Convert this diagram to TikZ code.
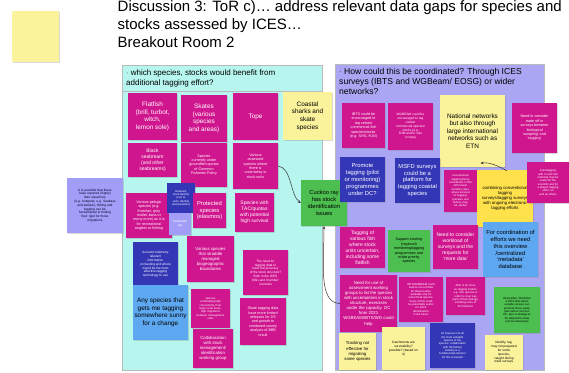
\documentclass[tikz,border=0pt]{standalone}
\usepackage{fontspec}
\setmainfont{Liberation Sans}
\usetikzlibrary{shadows,arrows.meta,calc}
\definecolor{mag}{HTML}{D0168E}
\definecolor{cyanp}{HTML}{B6F6EE}
\definecolor{lavp}{HTML}{AAA6F3}
\definecolor{dblue}{HTML}{3337B6}
\definecolor{lblue}{HTML}{5EA8F2}
\definecolor{gnote}{HTML}{4DBF50}
\definecolor{ylight}{HTML}{FBF29C}
\definecolor{ystrong}{HTML}{FFE14C}
\definecolor{lavnote}{HTML}{A29DF6}
\tikzset{
  sticky/.style={draw=none, align=center, inner sep=1pt,
    drop shadow={shadow xshift=0.5pt, shadow yshift=-0.7pt, opacity=0.3}},
  magnote/.style={sticky, fill=mag, text=white},
  bluenote/.style={sticky, fill=dblue, text=white},
  lbnote/.style={sticky, fill=lblue, text=black},
  grnote/.style={sticky, fill=gnote, text=black},
  ylnote/.style={sticky, fill=ylight, text=black},
  ysnote/.style={sticky, fill=ystrong, text=black},
  lvnote/.style={sticky, fill=lavnote, text=black!85!blue},
  panel/.style={draw=gray!55, line width=0.4pt},
  arr/.style={-{Stealth[length=3pt,width=2.6pt]}, draw=black!80, line width=0.5pt},
  fa/.style={font=\fontsize{2.8}{3.35}\selectfont},
  fb/.style={font=\fontsize{3.2}{3.8}\selectfont},
  fc/.style={font=\fontsize{3.7}{4.4}\selectfont},
  fd/.style={font=\fontsize{4.3}{5.1}\selectfont},
  fe/.style={font=\fontsize{5}{6}\selectfont},
  ff/.style={font=\fontsize{5.8}{6.9}\selectfont},
  fg/.style={font=\fontsize{6.4}{7.6}\selectfont},
  ttl/.style={anchor=base west, inner sep=0pt, font=\fontsize{15}{18}\selectfont},
}
\begin{document}
\begin{tikzpicture}[x=1pt,y=-1pt]
\useasboundingbox[fill=white] (0,0) rectangle (569,372);

% top-left sticky
\node[ylnote, minimum width=47pt, minimum height=51pt] (ylead) at (35.5,36.5) {};

% title
\node[ttl] (t1) at (117.5,11.6) {Discussion 3: ToR c)\dots\ address relevant data gaps for species and};
\node[ttl] (t2) at (117.5,29.2) {stocks assessed by ICES\dots};
\node[ttl] (t3) at (117.5,47) {Breakout Room 2};

% panels
\node[panel, fill=cyanp, minimum width=200pt, minimum height=305pt, inner sep=0pt] (lp) at (222,217.5) {};
\node[panel, fill=cyanp, minimum width=200pt, minimum height=26pt, inner sep=0pt, anchor=north west] (lph) at (122,65) {};
\node[anchor=north west, inner sep=0pt, align=left, font=\fontsize{8}{9.4}\selectfont] (lpt) at (126,70) {$\cdot$ which species, stocks would benefit from\\additional tagging effort?};

\node[panel, fill=lavp, minimum width=209pt, minimum height=306pt, inner sep=0pt] (rp) at (439.5,217) {};
\node[anchor=north west, inner sep=0pt, align=left, font=\fontsize{8.6}{9.6}\selectfont] (rpt) at (339,68.5) {$\cdot$ How could this be coordinated? Through ICES\\surveys (IBTS and WGBeam/ EOSG) or wider\\networks?};

% outside left lavender note
\node[lvnote, fb, minimum width=56pt, minimum height=55pt, text width=53pt] (lv1) at (95,205.5) {It is possible that these\\have reported (highly)\\than elsewhere\\(e.g. hotspots, e.g. Seabass\\and pollack), fishing and\\tagging can be\\fundamental to finding\\their rigid for those\\migrations};

% left panel notes
\node[magnote, fg, minimum width=49pt, minimum height=47pt] (n1) at (152.5,116.5) {Flatfish\\(brill, turbot,\\witch,\\lemon sole)};
\node[magnote, fg, minimum width=46pt, minimum height=47pt] (n2) at (204,118.5) {Skates\\(various\\species\\and areas)};
\node[magnote, fg, minimum width=45pt, minimum height=47pt] (n3) at (255.5,116.5) {Tope};
\node[ylnote, fg, minimum width=49pt, minimum height=48pt] (n4) at (307.5,116) {Coastal\\sharks and\\skate\\species};
\node[magnote, fe, minimum width=49pt, minimum height=34pt] (n5) at (152.5,160) {Black\\seabream\\(and other\\seabreams)};
\node[magnote, fc, minimum width=46pt, minimum height=44pt] (n6) at (204,165) {Species\\currently under\\groundfish quotas\\of Common\\Fisheries Policy};
\node[magnote, fc, minimum width=45pt, minimum height=46pt] (n7) at (255.5,166) {Various\\assessed\\species where\\there is\\uncertainty in\\stock units};
\node[magnote, fc, minimum width=46pt, minimum height=45pt] (n8) at (149,215.5) {Various pelagic\\species (e.g.\\thresher, grey\\mullet, bass or\\many more) as it is\\for recreational\\anglers or fishing};
\node[bluenote, fa, minimum width=28pt, minimum height=30pt] (n9) at (181,198) {Relevant\\stock identity\\prior to\\units, identity\\and parasites)};
\node[lvnote, fb, minimum width=22pt, minimum height=22pt, text=white] (n10) at (180,224) {Seabream\\ray};
\node[magnote, ff, minimum width=33pt, minimum height=35pt] (n11) at (209.5,210.5) {Protected\\species\\(elasmos)};
\node[magnote, fe, minimum width=39pt, minimum height=39pt] (n12) at (254.5,212.5) {Species with\\TAC/quotas\\with potential\\high survival};
\node[bluenote, fb, minimum width=45pt, minimum height=45pt] (n13) at (155.5,264.5) {Acoustic telemetry\\relevant\\information\\on feeding and where\\would be the most\\effective tagging\\technology to use};
\node[magnote, fd, minimum width=47pt, minimum height=46pt] (n14) at (210.5,259) {Various species\\that straddle\\managed\\biogeographic\\boundaries};
\node[magnote, fb, minimum width=45pt, minimum height=45pt] (n15) at (265.5,272.5) {The need for\\tagging data to\\have the accuracy\\of the stock structure?\\Both in the ICES\\WGs and `member'\\countries};
\node[lbnote, fg, minimum width=55pt, minimum height=55pt] (n16) at (160.5,312.5) {Any species that\\gets me tagging\\somewhere sunny\\for a change};
\node[magnote, fa, minimum width=39pt, minimum height=39pt] (n17) at (210.5,308.5) {Species\\undertaking high\\connectivity, from\\large scale areas,\\high migrations\\between management\\units};
\node[magnote, fc, minimum width=46pt, minimum height=47pt] (n18) at (263,321.5) {Skate tagging data\\have more limited\\releases for 2/3\\and growth to\\combined survey\\analysis of BBB\\result};
\node[magnote, fd, minimum width=40pt, minimum height=39pt] (n19) at (213,348.5) {Collaboration\\with stock\\management/\\identification\\working group};

% cuckoo ray
\node[grnote, ff, minimum width=46pt, minimum height=46pt] (cuck) at (324,203) {Cuckoo ray\\has stock\\identification\\issues};

% right panel notes
\node[magnote, fc, minimum width=43pt, minimum height=45pt] (r1) at (363.5,125.5) {IBTS could be\\encouraged to\\tag certain\\commercial fish\\species/stocks\\(e.g. SHG, RJN)};
\node[magnote, fb, minimum width=45pt, minimum height=47pt] (r2) at (410.5,126.5) {WGBEAM could be\\encouraged to tag\\certain\\commercial species/\\stocks (e.g.\\RJM and/or sole\\or tope)};
\node[ylnote, fg, minimum width=65pt, minimum height=72pt] (nat) at (472.5,131) {National networks\\but also through\\large international\\networks such as\\ETN};
\node[magnote, fc, minimum width=45pt, minimum height=50pt] (r4) at (534.5,128) {Need to consider\\trade off in\\surveys between\\`biological\\sampling' and\\`tagging'};
\node[bluenote, ff, minimum width=45pt, minimum height=45pt] (r5) at (362.5,179.5) {Promote\\tagging (pilot\\or monitoring)\\programmes\\under DC?};
\node[bluenote, ff, minimum width=45pt, minimum height=45pt] (r6) at (417.5,180.5) {MSFD surveys\\could be a\\platform for\\tagging coastal\\species};
\node[magnote, fa, minimum width=33pt, minimum height=42pt] (r7) at (460.5,191) {Conventional\\tagging (being\\considered, in fish\\with lowest\\mortality rates,\\where survival\\of `tagging'\\pressure and\\fishery, may\\be useful)};
\node[ysnote, fd, minimum width=56pt, minimum height=57pt] (comb) at (505,198.5) {combining conventional\\tagging\\surveys/tagging surveys\\with ongoing electronic\\tagging efforts};
\node[magnote, fa, minimum width=42pt, minimum height=41pt] (r9) at (548,182.5) {Fyke/tagging\\with `no-kill' fish\\methods may be\\useful for the\\scientific and for\\a deeper tagging\\effort, as\\well as others};
\node[magnote, fe, minimum width=45pt, minimum height=41pt] (r10) at (362.5,247.5) {Tagging of\\various fish\\where stock\\units uncertain,\\including some\\flatfish};
\node[grnote, fc, minimum width=42pt, minimum height=42pt] (r11) at (409,251) {Support existing\\(regional)\\monitoring/tagging\\programmes and\\make priority\\species};
\node[magnote, fe, minimum width=45pt, minimum height=44pt] (r12) at (455.5,247) {Need to consider\\workload of\\surveys and the\\requests for\\`more data'};
\node[lbnote, ff, minimum width=55pt, minimum height=55pt] (r13) at (510.5,249.5) {For coordination of\\efforts we need\\this overview\\/centralized\\`metadata'\\database};
\node[magnote, fd, minimum width=57pt, minimum height=57pt] (r14) at (368.5,303.5) {Need for use of\\assessment working\\groups to list the species\\with uncertainties in stock\\structure, exercises\\under the capacity. DC\\from 2021\\WGBEAM/IBTS/WG could\\help};
\node[magnote, fa, minimum width=44pt, minimum height=45pt] (r15) at (421,299.5) {IBTS/WGBEAM could\\lead to a lot of data\\for these bodies\\available only for\\some focal species.\\Some of this could\\be potentially useful\\for stock\\identification\\in the future};
\node[magnote, fa, minimum width=39pt, minimum height=38pt] (r16) at (465.5,296) {Able to do more\\on tagging studies\\e.g. rare species in\\order to cover key\\parts of their biology,\\including sizes of\\the fisheries};
\node[grnote, fa, minimum width=46pt, minimum height=46pt] (r17) at (517,310) {Remember: Would be\\a ICES WG where\\outside surveys can\\promote those easily\\plan with a common\\DC, plan a strategy to\\be adopted for data\\(can be data base)};
\node[ylnote, fd, minimum width=37pt, minimum height=37pt] (r18) at (357.5,351.5) {Tracking not\\effective for\\migrating\\some species};
\node[ylnote, fb, minimum width=43pt, minimum height=43pt] (r19) at (403.5,348.5) {Catchments are\\survivability?\\possible? (based on\\it)};
\node[bluenote, fa, minimum width=45pt, minimum height=45pt] (r20) at (452.5,345.5) {As however not all\\the most valuable\\species or the\\species: collaboration\\with the fishing\\industry is a\\fundamental element\\for this to benefit};
\node[ylnote, fb, minimum width=38pt, minimum height=35pt] (r21) at (504,352.5) {Identify, tag,\\may not prepared\\for some\\species,\\caught during\\trawl surveys};

% connectors
\draw[arr] (n7.east) .. controls (292,168) and (290,195) .. (cuck.west);
\draw[arr] (r14.west) .. controls (318,303) and (324,262) .. (cuck.south);
\draw[arr] ($(comb.north)+(2,1)$) .. controls (498,166) and (490,162) .. ($(nat.south)+(8,-4)$);
\end{tikzpicture}
\end{document}
